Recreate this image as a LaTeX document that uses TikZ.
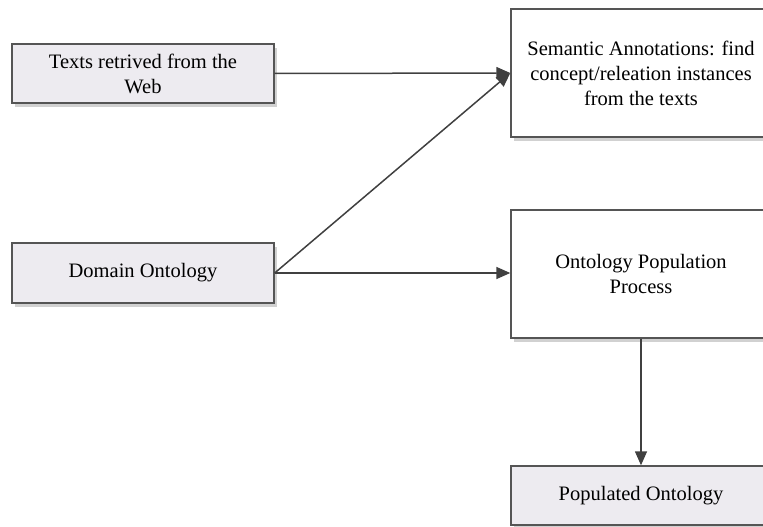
\documentclass[tikz,border=0pt]{standalone}
\usepackage{fontspec}
\setmainfont{Liberation Serif}
\usepackage{xcolor}
\usepackage{tikz}
\usetikzlibrary{arrows.meta,positioning,calc,shadows}

\definecolor{boxline}{HTML}{555555}
\definecolor{boxfill}{HTML}{EDEBF0}
\definecolor{arrowgray}{HTML}{404040}

\begin{document}
\begin{tikzpicture}[x=1pt, y=-1pt, >={Triangle[length=14pt,width=12pt]},
    every node/.style={font=\fontsize{20.5}{25}\selectfont},
    box/.style={draw=boxline, line width=1.4pt, align=center, inner sep=0pt,
        drop shadow={shadow xshift=3pt, shadow yshift=-4pt, opacity=0.3, fill=black!60}},
    grey box/.style={box, fill=boxfill},
    white box/.style={box, fill=white},
    flow/.style={->, draw=arrowgray, fill=arrowgray, line width=1.5pt}]
        \useasboundingbox (0,0) rectangle (763,527);

        % Left side: inputs
        \node[grey box, minimum width=262pt, minimum height=59pt] (texts) at (143,73.5) {Texts retrived from the\\Web};
        \node[grey box, minimum width=262pt, minimum height=60pt] (domain) at (143,273) {Domain Ontology};

        % Right side: processing steps
        \node[white box, minimum width=260pt, minimum height=128pt] (annot) at (641,73) {Semantic Annotations: find\\concept/releation instances\\from the texts};
        \node[white box, minimum width=260pt, minimum height=128pt] (popproc) at (641,274) {Ontology Population\\Process};
        \node[grey box, minimum width=260pt, minimum height=59pt] (popont) at (641,495.5) {Populated Ontology};

        % Arrows
        \draw[flow] (texts.east) -- (annot.west);
        \draw[flow] (domain.east) -- (annot.west);
        \draw[flow] (domain.east) -- (domain.east -| popproc.west);
        \draw[flow] (popproc.south) -- (popont.north);
    \end{tikzpicture}
\end{document}
